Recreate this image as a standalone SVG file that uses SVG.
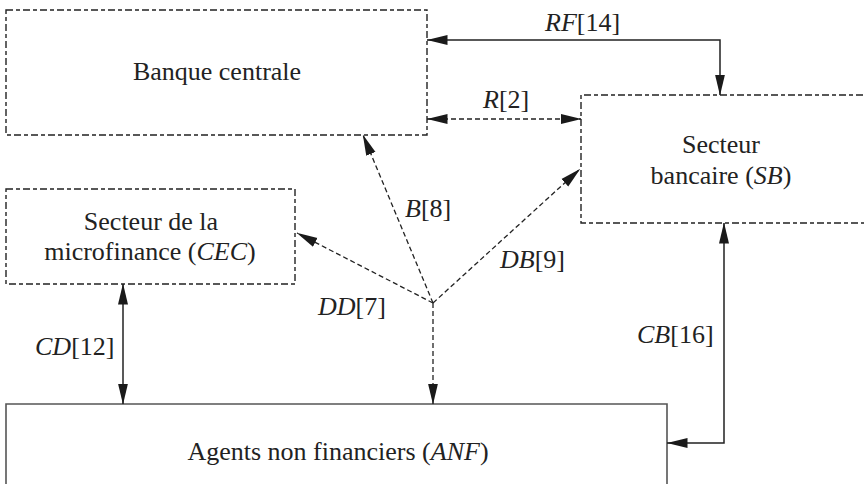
<svg xmlns="http://www.w3.org/2000/svg" width="864" height="484" viewBox="0 0 864 484">
<style>
text{font-family:'Liberation Serif','DejaVu Serif',serif;font-size:26px;fill:#222}
.c{text-anchor:middle}
.i{font-style:italic}
.box{fill:none;stroke:#222;stroke-width:1.4;stroke-dasharray:7 3 4 3}
.solidbox{fill:none;stroke:#555;stroke-width:1.6}
.s{fill:none;stroke:#222;stroke-width:1.5}
.d{fill:none;stroke:#222;stroke-width:1.3;stroke-dasharray:5 3}
</style>
<defs>
<marker id="ah" markerUnits="userSpaceOnUse" markerWidth="21" markerHeight="11" viewBox="0 0 21 11" refX="20.5" refY="5.5" orient="auto-start-reverse">
<path d="M0,0.5 L21,5.5 L0,10.5 z" fill="#1a1a1a"/>
</marker>
</defs>
<g id="banque">
<rect class="box" x="6" y="10" width="421" height="125"/>
<text class="c" x="217" y="80" font-family="Liberation Serif, serif">Banque centrale</text>
</g>
<g id="sb">
<path class="box" d="M880,95 H581 V223 H880"/>
<text class="c" x="721" y="153" font-family="Liberation Serif, serif">Secteur</text>
<text class="c" x="721" y="184" font-family="Liberation Serif, serif">bancaire (<tspan class="i">SB</tspan>)</text>
</g>
<g id="cec">
<rect class="box" x="6" y="189" width="289" height="95"/>
<text class="c" x="151" y="230" font-family="Liberation Serif, serif">Secteur de la</text>
<text class="c" x="150" y="260" font-family="Liberation Serif, serif">microfinance (<tspan class="i">CEC</tspan>)</text>
</g>
<g id="anf">
<path class="solidbox" d="M6,490 V404 H667 V490"/>
<text class="c" x="338" y="460" font-family="Liberation Serif, serif">Agents non financiers (<tspan class="i">ANF</tspan>)</text>
</g>
<g id="connectors">
<path class="s" d="M427,40 H720 V95" marker-start="url(#ah)" marker-end="url(#ah)"/>
<line class="d" x1="427" y1="119" x2="581" y2="119" marker-start="url(#ah)" marker-end="url(#ah)"/>
<line class="d" x1="433" y1="303" x2="363" y2="135" marker-end="url(#ah)"/>
<line class="d" x1="433" y1="303" x2="297" y2="233" marker-end="url(#ah)"/>
<line class="d" x1="433" y1="303" x2="580" y2="169" marker-end="url(#ah)"/>
<line class="d" x1="433" y1="303" x2="433" y2="404" marker-end="url(#ah)"/>
<line class="s" x1="123" y1="284" x2="123" y2="404" marker-start="url(#ah)" marker-end="url(#ah)"/>
<path class="s" d="M724,223 V443 H667" marker-start="url(#ah)" marker-end="url(#ah)"/>
</g>
<g id="labels">
<text x="545" y="31"><tspan class="i">RF</tspan>[14]</text>
<text x="483" y="108"><tspan class="i">R</tspan>[2]</text>
<text x="405" y="217"><tspan class="i">B</tspan>[8]</text>
<text x="318" y="315"><tspan class="i">DD</tspan>[7]</text>
<text x="500" y="268"><tspan class="i">DB</tspan>[9]</text>
<text x="35" y="355"><tspan class="i">CD</tspan>[12]</text>
<text x="637" y="343"><tspan class="i">CB</tspan>[16]</text>
</g>
</svg>
